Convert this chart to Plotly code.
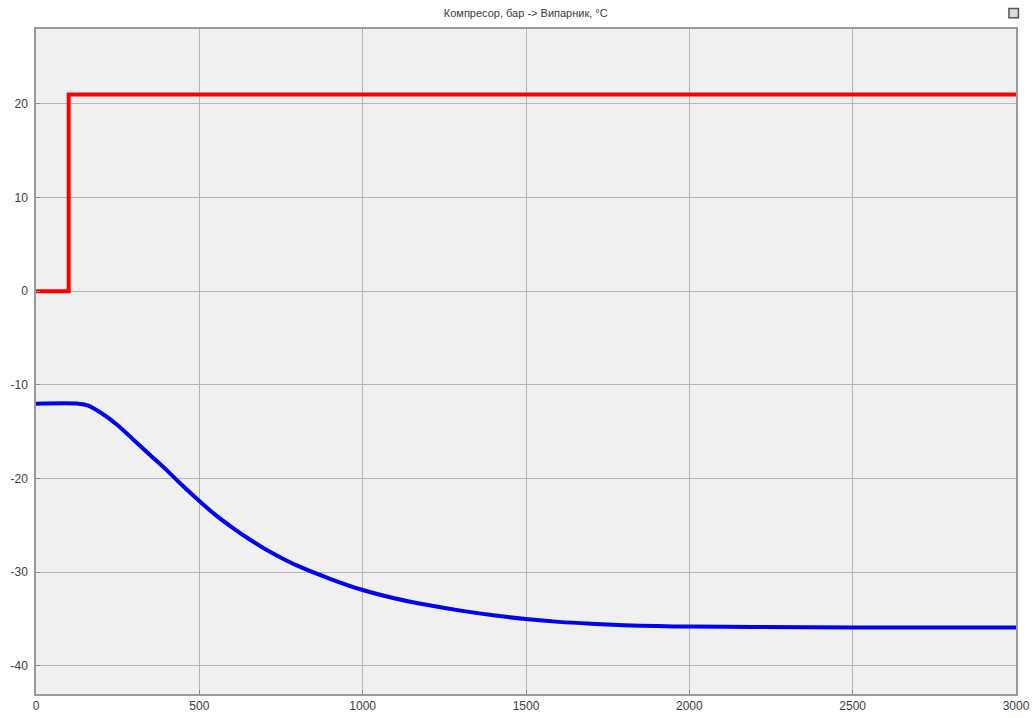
import plotly.graph_objects as go

# Compressor pressure (bar) step input
comp_t = [0, 100, 100, 3000]
comp_bar = [0, 0, 21, 21]

# Evaporator temperature response (°C)
evap_t = [0, 130, 160, 200, 250, 300, 350, 400, 450, 500, 550, 600, 650, 700,
          750, 800, 900, 1000, 1100, 1200, 1300, 1400, 1500, 1600, 1700, 1800,
          1900, 2000, 2200, 2500, 3000]
evap_c = [-12.0, -12.0, -12.2, -13.0, -14.3, -15.9, -17.5, -19.1, -20.8, -22.4,
          -23.9, -25.2, -26.4, -27.5, -28.45, -29.3, -30.7, -31.9, -32.8, -33.5,
          -34.1, -34.6, -35.0, -35.3, -35.5, -35.65, -35.75, -35.8, -35.85, -35.9,
          -35.9]

x_ticks = [0, 500, 1000, 1500, 2000, 2500, 3000]
y_ticks = [-40, -30, -20, -10, 0, 10, 20]
y_tick_text = ["-40", "-30", "-20", "-10", "0", "10", "20"]

fig = go.Figure()
fig.add_trace(go.Scatter(x=comp_t, y=comp_bar, mode="lines",
                         line=dict(color="#ff0000", width=4), showlegend=False))
fig.add_trace(go.Scatter(x=evap_t, y=evap_c, mode="lines",
                         line=dict(color="#0000ee", width=4, shape="spline", smoothing=0.7),
                         showlegend=False))

axis_common = dict(
    showgrid=True, gridcolor="#b4b4b4", gridwidth=1,
    showline=True, linecolor="#9a9a9a", linewidth=1.5, mirror=True,
    ticks="inside", ticklen=4, tickcolor="#8a8a8a",
    zeroline=False, automargin=False,
    tickfont=dict(family="Liberation Sans, Arial, sans-serif", size=12, color="#3c3c3c"),
)

fig.update_xaxes(range=[0, 3000], tickvals=x_ticks, **axis_common)
fig.update_yaxes(range=[-43, 28], tickvals=y_ticks, ticktext=y_tick_text,
                 ticklabelstandoff=4, **axis_common)

fig.update_layout(
    width=1035, height=718,
    margin=dict(l=36, r=19, t=29, b=24),
    paper_bgcolor="white",
    plot_bgcolor="#f0f0f0",
    title=dict(text="Компресор, бар -> Випарник, °C", x=0.508, xanchor="center",
               y=0.981, yanchor="middle",
               font=dict(family="Liberation Sans, Arial, sans-serif", size=11, color="#3a3a3a")),
    shapes=[
        dict(type="rect", xref="paper", yref="paper", layer="above",
             x0=0.9928, x1=1.0025, y0=1.017, y1=1.031,
             line=dict(color="#555555", width=1.5), fillcolor="#dddddd"),
    ],
)

fig.write_html("out.html")
